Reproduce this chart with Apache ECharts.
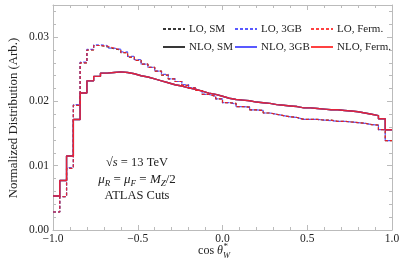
<!DOCTYPE html>
<html><head><meta charset="utf-8">
<script src="https://cdn.jsdelivr.net/npm/echarts@6/dist/echarts.min.js"></script>
<style>html,body{margin:0;padding:0;background:#fff}#c{width:407px;height:271px}</style>
</head><body><div id="c"></div>
<script>
// bin edges of cos(theta*_W), 50 bins of width 0.04
const binEdges = [-1.00,-0.96,-0.92,-0.88,-0.84,-0.80,-0.76,-0.72,-0.68,-0.64,-0.60,-0.56,-0.52,-0.48,-0.44,-0.40,-0.36,-0.32,-0.28,-0.24,-0.20,-0.16,-0.12,-0.08,-0.04,0.00,0.04,0.08,0.12,0.16,0.20,0.24,0.28,0.32,0.36,0.40,0.44,0.48,0.52,0.56,0.60,0.64,0.68,0.72,0.76,0.80,0.84,0.88,0.92,0.96,1.00];

const loSM   = [0.0028,0.0052,0.0096,0.0194,0.0260,0.0280,0.0287,0.0285,0.0282,0.0280,0.0276,0.0269,0.0264,0.0258,0.0253,0.0247,0.0241,0.0235,0.0231,0.0225,0.0221,0.0217,0.0211,0.0208,0.0204,0.0198,0.0197,0.0192,0.0191,0.0187,0.0186,0.0182,0.0180,0.0178,0.0176,0.0175,0.0172,0.0172,0.0172,0.0171,0.0171,0.0169,0.0169,0.0168,0.0167,0.0166,0.0164,0.0163,0.0156,0.0139];
const lo3GB  = [0.0028,0.0052,0.0097,0.0195,0.0261,0.0281,0.0288,0.0287,0.0283,0.0281,0.0277,0.0270,0.0265,0.0258,0.0253,0.0247,0.0242,0.0235,0.0231,0.0226,0.0221,0.0217,0.0211,0.0208,0.0204,0.0198,0.0196,0.0192,0.0191,0.0187,0.0186,0.0182,0.0180,0.0178,0.0176,0.0175,0.0172,0.0172,0.0172,0.0171,0.0170,0.0169,0.0169,0.0168,0.0167,0.0166,0.0164,0.0163,0.0156,0.0139];
const loFerm = [0.0028,0.0052,0.0096,0.0194,0.0260,0.0280,0.0287,0.0286,0.0283,0.0280,0.0276,0.0269,0.0264,0.0258,0.0253,0.0247,0.0241,0.0235,0.0231,0.0225,0.0221,0.0217,0.0211,0.0208,0.0204,0.0198,0.0197,0.0192,0.0191,0.0187,0.0186,0.0182,0.0180,0.0178,0.0176,0.0175,0.0172,0.0172,0.0172,0.0171,0.0171,0.0169,0.0169,0.0168,0.0167,0.0166,0.0164,0.0163,0.0156,0.0139];
const nloSM   = [0.0053,0.0077,0.0115,0.0172,0.0213,0.0232,0.0239,0.0244,0.0245,0.0246,0.0245,0.0243,0.0240,0.0238,0.0235,0.0232,0.0229,0.0226,0.0224,0.0221,0.0219,0.0216,0.0213,0.0211,0.0208,0.0205,0.0203,0.0202,0.0201,0.0199,0.0198,0.0197,0.0195,0.0194,0.0193,0.0192,0.0190,0.0190,0.0189,0.0188,0.0187,0.0187,0.0186,0.0185,0.0184,0.0182,0.0180,0.0178,0.0173,0.0156];
const nlo3GB  = [0.0053,0.0077,0.0115,0.0172,0.0213,0.0232,0.0239,0.0244,0.0245,0.0246,0.0245,0.0243,0.0240,0.0238,0.0235,0.0232,0.0229,0.0226,0.0224,0.0221,0.0219,0.0216,0.0213,0.0211,0.0208,0.0205,0.0203,0.0202,0.0201,0.0199,0.0198,0.0197,0.0195,0.0194,0.0193,0.0192,0.0190,0.0190,0.0189,0.0188,0.0187,0.0187,0.0186,0.0185,0.0184,0.0182,0.0180,0.0178,0.0173,0.0156];
const nloFerm = [0.0053,0.0077,0.0115,0.0172,0.0213,0.0232,0.0239,0.0244,0.0245,0.0246,0.0245,0.0243,0.0240,0.0238,0.0235,0.0232,0.0229,0.0226,0.0224,0.0221,0.0219,0.0216,0.0213,0.0211,0.0208,0.0205,0.0203,0.0202,0.0201,0.0199,0.0198,0.0197,0.0195,0.0194,0.0193,0.0192,0.0190,0.0190,0.0189,0.0188,0.0187,0.0187,0.0186,0.0185,0.0184,0.0182,0.0180,0.0178,0.0173,0.0156];

const xTicks = [-1.0,-0.5,0.0,0.5,1.0];
const yTicks = [0.00,0.01,0.02,0.03];

function hist(vals){
  const d = [];
  for (let i = 0; i < vals.length; i++) d.push([binEdges[i], vals[i]]);
  d.push([binEdges[binEdges.length-1], vals[vals.length-1]]);
  return d;
}
const FONT = 'Liberation Serif';
const BLACK = '#222222', BLUE = '#3c3cff', RED = '#ff2020';
function S(name, vals, color, dashed, z){
  return {name, type:'line', step:'end', data: hist(vals), symbol:'none', z,
    lineStyle:{color, width: dashed?1.2:1.4, type: dashed?[3,2]:'solid', opacity: color===BLACK?0.9:0.85},
    itemStyle:{color}, animation:false};
}
const axisGray = '#bbbbbb';
function xAx(pos, labels){
  return {type:'value', position:pos, min:-1, max:1, interval:0.5,
    axisLine:{show:true, onZero:false, lineStyle:{color:axisGray}},
    axisTick:{show:true, inside:true, length:5, lineStyle:{color:axisGray}},
    minorTick:{show:true, splitNumber:5, length:3, lineStyle:{color:axisGray}},
    splitLine:{show:false},
    axisLabel:{show:labels, color:'#222', fontFamily:FONT, fontSize:11.5, margin:3,
      formatter: v => xTicks.some(t=>Math.abs(t-v)<1e-9) ? v.toFixed(1).replace('-', '\u2212') : ''}};
}
function yAx(pos, labels){
  return {type:'value', position:pos, min:0, max:0.035, interval:0.01,
    axisLine:{show:true, onZero:false, lineStyle:{color:axisGray}},
    axisTick:{show:true, inside:true, length:5, lineStyle:{color:axisGray}},
    minorTick:{show:true, splitNumber:5, length:3, lineStyle:{color:axisGray}},
    splitLine:{show:false},
    axisLabel:{show:labels, color:'#222', fontFamily:FONT, fontSize:11.5, margin:4, showMaxLabel:false,
      formatter: v => yTicks.some(t=>Math.abs(t-v)<1e-9) ? v.toFixed(2) : ''}};
}
function leg(left, names){
  return {orient:'vertical', left, top:18, itemWidth:22, itemHeight:10, itemGap:6,
    data:names, selectedMode:false, itemStyle:{opacity:0},
    textStyle:{fontFamily:FONT, fontSize:11, color:'#222', lineHeight:12, padding:[0,0,0,-1]}};
}
const chart = echarts.init(document.getElementById('c'), null, {renderer:'canvas'});
chart.setOption({
  animation:false,
  grid:{left:53, right:15, top:5, bottom:41},
  xAxis:[xAx('bottom', true), xAx('top', false)],
  yAxis:[yAx('left', true), yAx('right', false)],
  legend:[leg(157,['LO, SM','NLO, SM']), leg(229,['LO, 3GB','NLO, 3GB']), leg(305,['LO, Ferm.','NLO, Ferm.'])],
  series:[
    S('LO, SM', loSM, BLACK, true, 2), S('NLO, SM', nloSM, BLACK, false, 2),
    S('LO, 3GB', lo3GB, BLUE, true, 3), S('NLO, 3GB', nlo3GB, BLUE, false, 3),
    S('LO, Ferm.', loFerm, RED, true, 4), S('NLO, Ferm.', nloFerm, RED, false, 4)
  ],
  graphic:[
    {type:'text', x:14, y:118, rotation:Math.PI/2, style:{text:'Normalized Distribution (Arb.)', fontFamily:FONT, fontSize:12.8, fill:'#222', align:'center', verticalAlign:'middle'}},
    {type:'text', x:223, y:251, style:{text:'cos {i|θ}', fontFamily:FONT, fontSize:12, fill:'#222', align:'right', verticalAlign:'middle', rich:{i:{fontFamily:FONT, fontStyle:'italic', fontSize:12}}}},
    {type:'text', x:223.5, y:247, style:{text:'*', fontFamily:FONT, fontSize:9, fill:'#222', align:'left', verticalAlign:'middle'}},
    {type:'text', x:223, y:256, style:{text:'W', fontFamily:FONT, fontStyle:'italic', fontSize:8.5, fill:'#222', align:'left', verticalAlign:'middle'}},
    {type:'text', x:137, y:163, style:{text:'√{i|s} = 13 TeV', fontFamily:FONT, fontSize:12.5, fill:'#222', align:'center', verticalAlign:'middle', rich:{i:{fontFamily:FONT, fontStyle:'italic', fontSize:12.5}}}},
    {type:'text', x:137, y:180, style:{text:'{i|μ}{s|R} = {i|μ}{s|F} = {i|M}{s|Z}/2', fontFamily:FONT, fontSize:13, fill:'#222', align:'center', verticalAlign:'middle',
      rich:{i:{fontFamily:FONT, fontStyle:'italic', fontSize:13, lineHeight:17, verticalAlign:'middle'}, s:{fontFamily:FONT, fontStyle:'italic', fontSize:9, lineHeight:17, verticalAlign:'bottom'}}}},
    {type:'text', x:137, y:196, style:{text:'ATLAS Cuts', fontFamily:FONT, fontSize:12.5, fill:'#222', align:'center', verticalAlign:'middle'}}
  ]
});
</script></body></html>
